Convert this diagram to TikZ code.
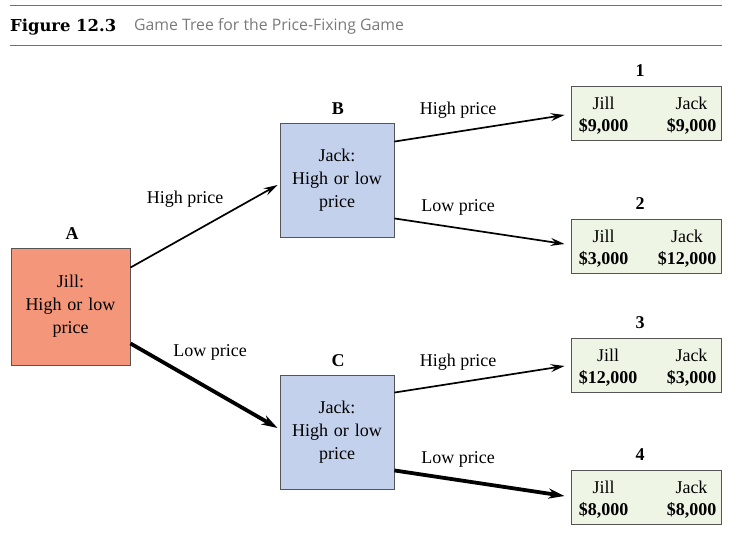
\documentclass[tikz,border=0pt]{standalone}
\usepackage{fontspec}
\setmainfont{Liberation Serif}
\newfontfamily\capfont{DejaVu Serif}
\newfontfamily\subfont{Open Sans}
\usetikzlibrary{arrows.meta,calc}
\definecolor{salmon}{HTML}{F4967A}
\definecolor{jackblue}{HTML}{C4D1EC}
\definecolor{payoff}{HTML}{EEF5E5}
\definecolor{edge}{HTML}{555555}
\definecolor{rulegray}{HTML}{707070}
\definecolor{subgray}{HTML}{7A7A7A}
\tikzset{
  base/.style={font=\fontsize{18}{23}\selectfont},
  decision/.style={base, draw=edge, line width=0.9pt, minimum width=118pt, minimum height=116pt, inner sep=0pt, align=center, text width=110pt},
  jill/.style={decision, fill=salmon, minimum width=119pt, minimum height=117pt},
  jack/.style={decision, fill=jackblue, minimum width=114pt, minimum height=114pt},
  outcome/.style={draw=edge, line width=0.9pt, fill=payoff, minimum width=150pt, minimum height=54pt, inner sep=0pt},
  tag/.style={base, font=\fontsize{18}{23}\selectfont\bfseries},
  txt/.style={base, inner sep=0pt},
  val/.style={inner sep=0pt, font=\fontsize{18}{23}\selectfont\bfseries},
  move/.style={line width=1.7pt, -{Stealth[length=14pt,width=8pt,inset=5pt]}},
  bigmove/.style={line width=3.8pt, -{Stealth[length=16pt,width=10pt,inset=5pt]}},
}
\begin{document}
\begin{tikzpicture}[x=1pt,y=-1pt]
\useasboundingbox (0,0) rectangle (737,537);
% caption
\draw[rulegray, line width=1pt] (10,6) -- (722,6);
\draw[rulegray, line width=1pt] (10,46) -- (722,46);
\node[anchor=west, inner sep=0pt, font=\capfont\bfseries\fontsize{16.4}{19}\selectfont] (fig) at (10,27) {Figure 12.3};
\node[anchor=west, inner sep=0pt, text=subgray, font=\subfont\fontsize{15.8}{18}\selectfont] (sub) at (134,26) {Game Tree for the Price-Fixing Game};
% decision nodes
\node[jill] (A) at (70.5,306.5) {Jill:\\High or low\\price};
\node[jack] (B) at (337,180) {Jack:\\High or low\\price};
\node[jack] (C) at (337,432) {Jack:\\High or low\\price};
\node[tag] (la) at (72,234) {A};
\node[tag] (lb) at (338,109) {B};
\node[tag] (lc) at (338,361) {C};
% outcome boxes
\foreach \n/\y/\jl/\jk in {1/113/{\$9,000}/{\$9,000}, 2/246/{\$3,000}/{\$12,000}, 3/365/{\$12,000}/{\$3,000}, 4/497/{\$8,000}/{\$8,000}}{
  \node[outcome] (o\n) at (646,\y) {};
  \node[tag] (t\n) at ($(o\n.north)+(-6,-15)$) {\n};
  \node[val, anchor=west] (vl\n) at ($(o\n.west)+(8,13)$) {\jl};
  \node[val, anchor=east] (vk\n) at ($(o\n.east)+(-5,13)$) {\jk};
  \node[txt] (jl\n) at ($(vl\n.center)+(0,-23)$) {Jill};
  \node[txt] (jk\n) at ($(vk\n.center)+(0,-23)$) {Jack};
}
% connectors
\coordinate (a1) at ($(A.north east)+(0,20)$);
\coordinate (a2) at ($(A.south east)+(0,-22)$);
\draw[move] (a1) -- ($(B.west)+(-2,5)$);
\draw[bigmove] (a2) -- ($(C.west)+(-2,-4)$);
\draw[move] ($(B.north east)+(0,19)$) -- ($(o1.west)+(-6,2)$);
\draw[move] ($(B.south east)+(0,-19)$) -- ($(o2.west)+(-6,-2)$);
\draw[move] ($(C.north east)+(0,18)$) -- ($(o3.west)+(-6,1)$);
\draw[bigmove] ($(C.south east)+(0,-19)$) -- ($(o4.west)+(-6,-1)$);
% move labels
\node[txt] (m1) at (185,199) {High price};
\node[txt] (m2) at (210,352) {Low price};
\node[txt] (m3) at (458,110) {High price};
\node[txt] (m4) at (458,207) {Low price};
\node[txt] (m5) at (458,362) {High price};
\node[txt] (m6) at (458,459) {Low price};
\end{tikzpicture}
\end{document}
